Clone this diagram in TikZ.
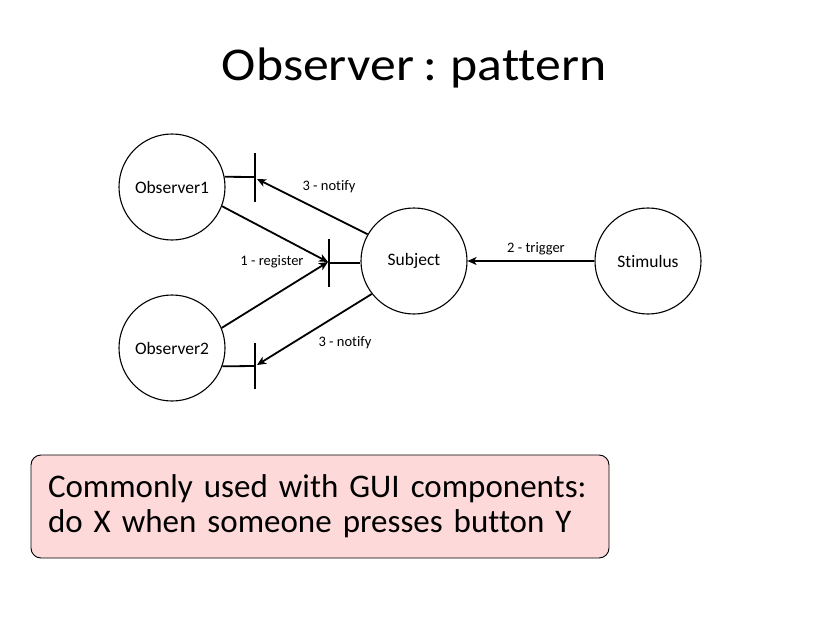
\documentclass[tikz,border=0pt]{standalone}
\usepackage{fontspec}
\setmainfont[Ligatures=NoCommon]{Carlito}
\newfontfamily\titlefont[Ligatures=NoCommon,FakeStretch=1.1,WordSpace=0.8]{Carlito}
\newfontfamily\boxfont[Ligatures=NoCommon,WordSpace=0.85]{Carlito}
\usetikzlibrary{arrows.meta}
\definecolor{boxpink}{RGB}{253,217,217}
\begin{document}
\begin{tikzpicture}[x=1pt,y=-1pt,
  actor/.style={circle,draw,line width=1.1pt,minimum size=106pt,inner sep=0pt,font=\fontsize{17.5}{20}\selectfont},
  conn/.style={line width=1.8pt},
  arr/.style={line width=1.8pt,-{Stealth[length=9pt,width=8pt,inset=2.5pt]}},
  lbl/.style={font=\fontsize{14.5}{16}\selectfont,inner sep=0pt}]
\useasboundingbox (0,0) rectangle (825,618);
\node[font=\titlefont\fontsize{47}{52}\selectfont] (title) at (414,68) {Observer : pattern};
\node[actor] (o1) at (172,187) {Observer1};
\node[actor] (o2) at (172,348) {Observer2};
\node[actor] (subj) at (414,261) {Subject};
\node[actor] (stim) at (648,261) {Stimulus};
% bars
\coordinate (b1) at (255,177);
\coordinate (b1t) at (255,153);
\coordinate (b1b) at (255,202);
\coordinate (b2) at (329,263);
\coordinate (b2t) at (329,239);
\coordinate (b2b) at (329,287);
\coordinate (b3) at (255,366);
\coordinate (b3t) at (255,343);
\coordinate (b3b) at (255,389);
\coordinate (a1) at (257,179);
\coordinate (a2) at (328,262);
\coordinate (a3) at (257,365);
\draw[conn] (b1t) -- (b1b);
\draw[conn] (b2t) -- (b2b);
\draw[conn] (b3t) -- (b3b);
\draw[conn] (o1.11) -- (b1);
\draw[conn] (b2) -- (b2 -| subj.west);
\draw[conn] (o2.-20) -- (b3);
\draw[arr] (subj.150) -- (a1);
\draw[arr] (o1.-21) -- (a2);
\draw[arr] (o2.22) -- (a2);
\draw[arr] (subj.218) -- (a3);
\draw[arr] (stim.west) -- (subj.east);
\node[lbl] (l1) at (329,187) {3 - notify};
\node[lbl] (l2) at (272,262) {1 - register};
\node[lbl] (l3) at (345,343) {3 - notify};
\node[lbl] (l4) at (536,249) {2 - trigger};
\node[draw,line width=0.9pt,fill=boxpink,rounded corners=10pt,minimum width=578pt,minimum height=103pt,
  text width=544pt,inner xsep=17pt,align=left,font=\boxfont\fontsize{33}{35}\selectfont] (box) at (320,506.5)
  {\hyphenpenalty=10000 Commonly used with GUI components:\\do X when someone presses button Y};
\end{tikzpicture}
\end{document}
